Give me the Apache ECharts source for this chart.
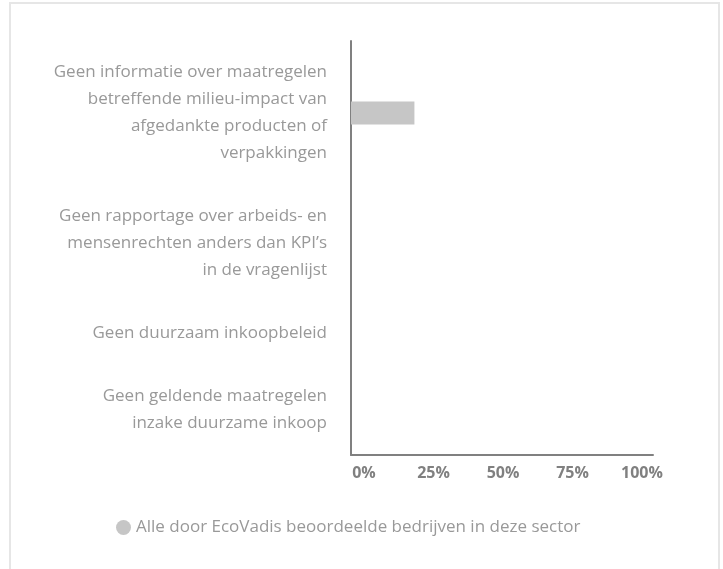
<!DOCTYPE html>
<html>
<head>
<meta charset="utf-8">
<script src="https://cdn.jsdelivr.net/npm/echarts@6/dist/echarts.min.js"></script>
<style>
html,body{margin:0;padding:0;background:#fff;}
#chart{width:723px;height:569px;}
</style>
</head>
<body>
<div id="chart"></div>
<script>
const categories = [
  'Geen informatie over maatregelen\nbetreffende milieu-impact van\nafgedankte producten of\nverpakkingen',
  'Geen rapportage over arbeids- en\nmensenrechten anders dan KPI\u2019s\nin de vragenlijst',
  'Geen duurzaam inkoopbeleid',
  'Geen geldende maatregelen\ninzake duurzame inkoop'
];
const values = [21, 0, 0, 0];
const seriesName = 'Alle door EcoVadis beoordeelde bedrijven in deze sector';
const tickLabels = ['0%', '25%', '50%', '75%', '100%'];

(function () {
  const FONT = 'Open Sans';
  const AXIS_COLOR = '#808080';
  const BAR_COLOR = '#c6c6c6';
  const LINE_H = 27;
  const ROW_PAD = 36;
  const TOP0 = 41;
  const LEFT = 351;
  const WIDTH = 302;

  const grids = [], xAxes = [], yAxes = [], series = [];
  let rowTop = TOP0;
  categories.forEach((cat, i) => {
    const lines = cat.split('\n').length;
    const h = LINE_H * lines + ROW_PAD;
    const last = i === categories.length - 1;
    grids.push({ left: LEFT, width: WIDTH, top: rowTop, height: h });
    rowTop += h;
    xAxes.push({
      gridIndex: i, type: 'value', min: 0, max: 100, interval: 25,
      show: last,
      axisLine: { show: true, lineStyle: { color: AXIS_COLOR, width: 2 } },
      axisTick: { show: false }, axisLabel: { show: false }, splitLine: { show: false }
    });
    yAxes.push({
      gridIndex: i, type: 'category', data: [cat],
      axisLine: { show: true, lineStyle: { color: AXIS_COLOR, width: 2 } },
      axisTick: { show: false }, splitLine: { show: false },
      axisLabel: {
        color: '#999999', fontFamily: FONT, fontSize: 17, lineHeight: LINE_H,
        align: 'right', margin: 24
      }
    });
    series.push({
      name: seriesName, type: 'bar', xAxisIndex: i, yAxisIndex: i,
      data: [values[i]], barWidth: 23, itemStyle: { color: BAR_COLOR },
      silent: true
    });
  });

  // label-only axis for percentages
  const li = categories.length;
  grids.push({ left: 364, width: 278, top: rowTop - 1, height: 1 });
  xAxes.push({
    gridIndex: li, type: 'value', min: 0, max: 100, interval: 25,
    axisLine: { show: false }, axisTick: { show: false }, splitLine: { show: false },
    axisLabel: {
      margin: 10, color: '#808080', fontFamily: FONT, fontSize: 16, fontWeight: 'bold',
      formatter: (v, idx) => tickLabels[idx]
    }
  });
  yAxes.push({ gridIndex: li, type: 'value', show: false });

  const chart = echarts.init(document.getElementById('chart'));
  chart.setOption({
    animation: false,
    backgroundColor: '#ffffff',
    textStyle: { fontFamily: FONT },
    graphic: [{
      type: 'rect', z: -10, silent: true,
      shape: { x: 10, y: 3, width: 709, height: 700 },
      style: { fill: 'none', stroke: '#e6e6e6', lineWidth: 2 }
    }],
    legend: {
      data: [{ name: seriesName, icon: 'circle' }],
      left: 111, top: 514, itemWidth: 15, itemHeight: 15, itemGap: 10,
      textStyle: { color: '#999999', fontFamily: FONT, fontSize: 17 },
      selectedMode: false
    },
    grid: grids, xAxis: xAxes, yAxis: yAxes, series: series
  });
})();
</script>
</body>
</html>
